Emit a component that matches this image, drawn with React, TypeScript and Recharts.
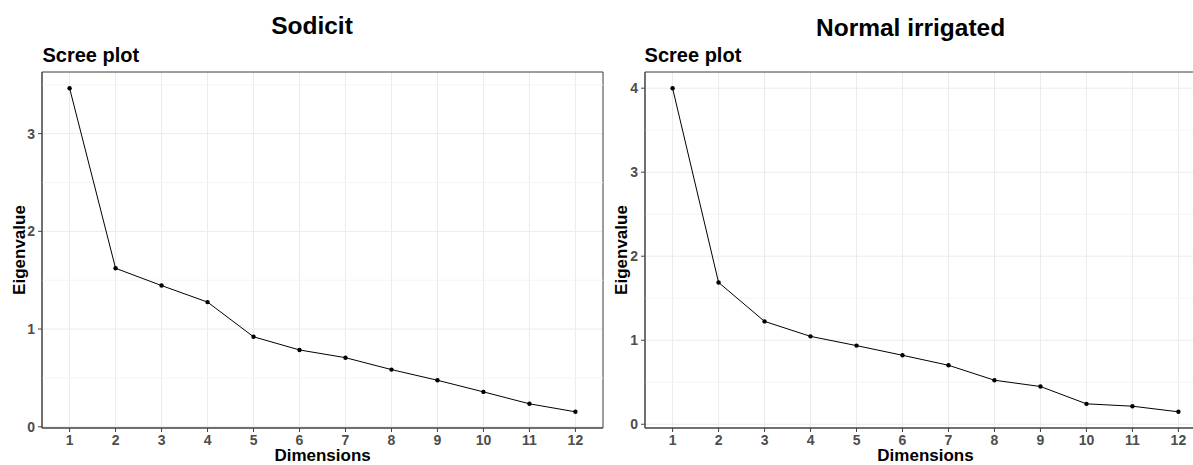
import React from 'react';
import { LineChart, Line, XAxis, YAxis, CartesianGrid, ReferenceLine, ReferenceArea } from 'recharts';

const dimensions = [1, 2, 3, 4, 5, 6, 7, 8, 9, 10, 11, 12];
const sodicitEigen = [3.465, 1.622, 1.445, 1.276, 0.921, 0.786, 0.707, 0.585, 0.476, 0.357, 0.235, 0.153];
const normalEigen = [4.0, 1.688, 1.224, 1.046, 0.936, 0.821, 0.702, 0.524, 0.449, 0.243, 0.215, 0.148];
const sodicitYTicks = [0, 1, 2, 3];
const normalYTicks = [0, 1, 2, 3, 4];
const sodicitMinor = [0.5, 1.5, 2.5, 3.5];
const normalMinor = [0.5, 1.5, 2.5, 3.5];

const FONT = '"Liberation Sans", Arial, Helvetica, sans-serif';
const X_DOMAIN: [number, number] = [0.4, 12.6];

function ScreePanel({ values, yTicks, minor, left }: { values: number[]; yTicks: number[]; minor: number[]; left: number }) {
  const data = dimensions.map((d, i) => ({ dim: d, value: values[i] }));
  const min = Math.min(...values);
  const max = Math.max(...values);
  const pad = (max - min) * 0.05;
  const yDomain: [number, number] = [min - pad, max + pad];
  const tickStyle = { fill: '#4d4d4d', fontSize: 14, fontWeight: 700, fontFamily: FONT };
  return (
    <div style={{ position: 'absolute', left, top: 0 }}>
      <LineChart width={620} height={465} data={data} margin={{ top: 72, right: 17, bottom: 0, left: 0 }}>
        <CartesianGrid stroke="#ebebeb" strokeWidth={1} />
        {minor.map((t) => (
          <ReferenceLine key={t} y={t} stroke="#f4f4f4" strokeWidth={1} />
        ))}
        <XAxis
          dataKey="dim"
          type="number"
          domain={X_DOMAIN}
          ticks={dimensions}
          interval={0}
          allowDataOverflow
          height={37}
          tickSize={4}
          tickMargin={3}
          axisLine={{ stroke: '#444444' }}
          tickLine={{ stroke: '#444444' }}
          tick={tickStyle}
        />
        <YAxis
          type="number"
          domain={yDomain}
          ticks={yTicks}
          interval={0}
          allowDataOverflow
          width={42}
          tickSize={4}
          tickMargin={3}
          axisLine={{ stroke: '#444444' }}
          tickLine={{ stroke: '#444444' }}
          tick={tickStyle}
        />
        <ReferenceArea
          x1={X_DOMAIN[0]}
          x2={X_DOMAIN[1]}
          y1={yDomain[0]}
          y2={yDomain[1]}
          fill="none"
          stroke="#444444"
          strokeWidth={1}
        />
        <Line
          dataKey="value"
          type="linear"
          stroke="#000000"
          strokeWidth={1}
          dot={{ r: 2.2, fill: '#000000', stroke: 'none' }}
          activeDot={false}
          isAnimationActive={false}
        />
      </LineChart>
    </div>
  );
}

export default function App() {
  return (
    <div
      style={{
        position: 'absolute',
        left: 0,
        top: 0,
        width: 1193,
        height: 465,
        overflow: 'hidden',
        background: '#ffffff',
        fontFamily: FONT,
      }}
    >
      <ScreePanel values={sodicitEigen} yTicks={sodicitYTicks} minor={sodicitMinor} left={0} />
      <ScreePanel values={normalEigen} yTicks={normalYTicks} minor={normalMinor} left={603} />
      <svg width={1193} height={465} style={{ position: 'absolute', left: 0, top: 0, pointerEvents: 'none' }}>
        <g fontFamily={FONT} fontWeight={700} fill="#000000">
          <text x={312} y={34.3} fontSize={24.5} textAnchor="middle">Sodicit</text>
          <text x={910.6} y={36} fontSize={24.5} textAnchor="middle">Normal irrigated</text>
          <text x={42.5} y={62} fontSize={20}>Scree plot</text>
          <text x={644.6} y={62} fontSize={20}>Scree plot</text>
          <text x={322.6} y={461} fontSize={17} textAnchor="middle">Dimensions</text>
          <text x={925.5} y={461} fontSize={17} textAnchor="middle">Dimensions</text>
          <text x={25} y={250} fontSize={17} textAnchor="middle" transform="rotate(-90 25 250)">Eigenvalue</text>
          <text x={627.3} y={250} fontSize={17} textAnchor="middle" transform="rotate(-90 627.3 250)">Eigenvalue</text>
        </g>
      </svg>
    </div>
  );
}
